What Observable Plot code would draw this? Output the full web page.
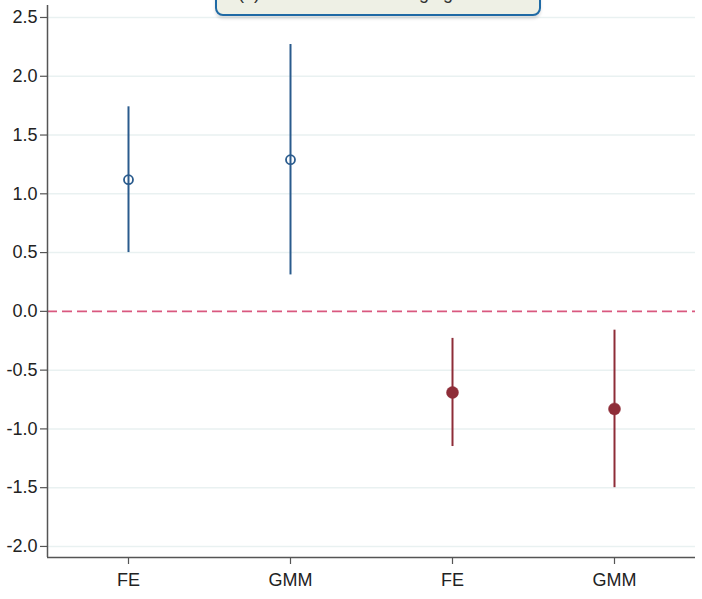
<!DOCTYPE html>
<html>
<head>
<meta charset="utf-8">
<script src="https://cdn.jsdelivr.net/npm/d3@7"></script>
<script src="https://cdn.jsdelivr.net/npm/@observablehq/plot@0.6"></script>
<style>
  html, body { margin: 0; padding: 0; background: #fff; overflow: hidden; }
  #wrap { position: relative; width: 702px; height: 599px; }
  #legendbox {
    position: absolute; left: 215px; top: -22px; width: 322px; height: 34px;
    border: 2px solid #1f6aa5; border-radius: 8px; background: #eef0e5;
    box-shadow: 0 3px 3px rgba(0,0,0,0.12);
    font-family: "Liberation Sans", Arial, sans-serif; font-size: 18px; color: #333;
    box-sizing: content-box;
  }
  #legendbox span { position: absolute; left: 21px; top: 3px; line-height: 20px; white-space: nowrap; }
</style>
</head>
<body>
<div id="wrap">
  <div id="chart"></div>
  <div id="legendbox"><span>(a) Banks with low hedging</span></div>
</div>
<script>
// Categories (x positions 1..4)
const categories = ["FE", "GMM", "FE", "GMM"];
const positions = [1, 2, 3, 4];

// Blue series (hollow circles): positions 1, 2
const bluePos = [1, 2];
const blueEst = [1.12, 1.29];
const blueLo = [0.50, 0.31];
const blueHi = [1.74, 2.27];

// Red series (filled circles): positions 3, 4
const redPos = [3, 4];
const redEst = [-0.69, -0.83];
const redLo = [-1.15, -1.50];
const redHi = [-0.23, -0.16];

// Y tick values
const yTicks = [-2.0, -1.5, -1.0, -0.5, 0.0, 0.5, 1.0, 1.5, 2.0, 2.5];

const blue = bluePos.map((p, i) => ({pos: p, est: blueEst[i], lo: blueLo[i], hi: blueHi[i]}));
const red = redPos.map((p, i) => ({pos: p, est: redEst[i], lo: redLo[i], hi: redHi[i]}));

const yMin = -2.094, yMax = 2.602;
const xMin = 0.5, xMax = 4.5;
const blueColor = "#2a5b8d";
const redColor = "#8e2d38";

const chart = Plot.plot({
  width: 702,
  height: 599,
  marginLeft: 47,
  marginRight: 7,
  marginTop: 5,
  marginBottom: 42,
  style: {fontFamily: "'Liberation Sans', Arial, sans-serif", fontSize: "18px", color: "#222", background: "#fff"},
  x: {domain: [xMin, xMax]},
  y: {domain: [yMin, yMax]},
  marks: [
    // grid lines
    Plot.ruleY(yTicks.filter(d => d !== 0), {stroke: "#e9f1f1", strokeWidth: 1.5}),
    // zero reference line
    Plot.ruleY([0], {stroke: "#d9587f", strokeWidth: 1.6, strokeDasharray: "10,5"}),
    // confidence intervals
    Plot.ruleX(blue, {x: "pos", y1: "lo", y2: "hi", stroke: blueColor, strokeWidth: 2}),
    Plot.ruleX(red, {x: "pos", y1: "lo", y2: "hi", stroke: redColor, strokeWidth: 2}),
    // point estimates
    Plot.dot(blue, {x: "pos", y: "est", r: 4.5, stroke: blueColor, strokeWidth: 1.8, fill: "none"}),
    Plot.dot(red, {x: "pos", y: "est", r: 6, fill: redColor, stroke: redColor, strokeWidth: 0.5}),
    // axes
    Plot.axisY(yTicks, {tickFormat: d => d.toFixed(1), tickSize: 7, tickPadding: 3, fontSize: 18, stroke: "#555", strokeWidth: 1.2, fill: "#222", label: null}),
    Plot.axisX(positions, {tickFormat: (d) => categories[positions.indexOf(d)], tickSize: 7, tickPadding: 9, fontSize: 18, stroke: "#555", strokeWidth: 1.2, fill: "#222", label: null}),
    Plot.ruleX([xMin], {y1: yMin, y2: yMax, stroke: "#555", strokeWidth: 1.5}),
    Plot.ruleY([yMin], {x1: xMin, x2: xMax, stroke: "#555", strokeWidth: 1.5})
  ]
});
chart.querySelectorAll("text").forEach(t => { t.style.fontSize = "18px"; });
document.getElementById("chart").appendChild(chart);
</script>
</body>
</html>
